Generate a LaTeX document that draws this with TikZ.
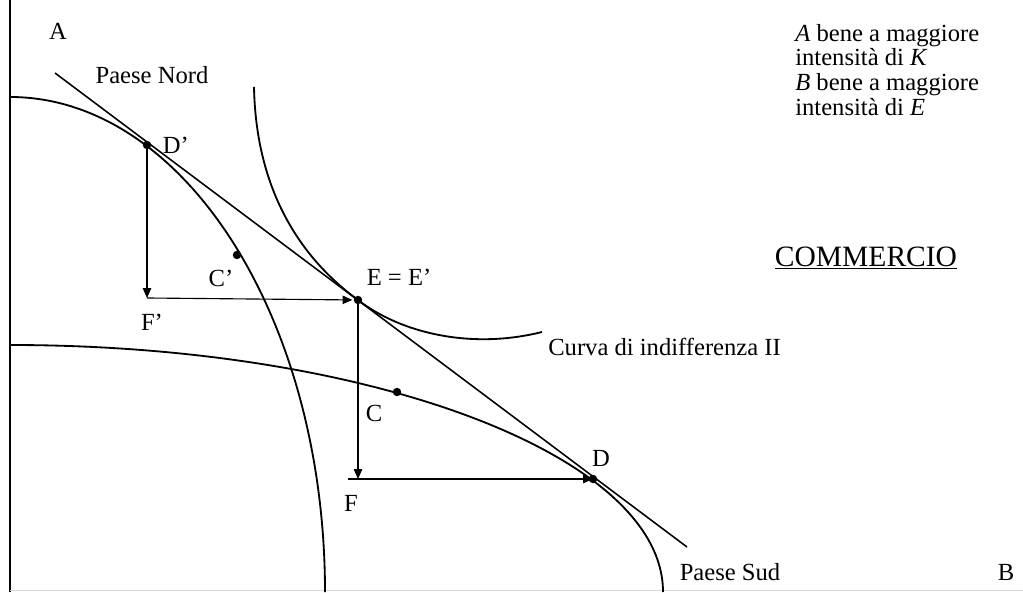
\documentclass[tikz,border=0pt]{standalone}
\usepackage{fontspec}
\setmainfont{Liberation Serif}
\usetikzlibrary{arrows.meta,positioning}

\begin{document}
\begin{tikzpicture}[x=0.025cm,y=0.025cm,>={Triangle[length=7pt,width=6pt]},
    lbl/.style={font=\fontsize{17.5}{17.5}\selectfont,inner sep=0pt},
    curva/.style={line width=1.3pt},
    freccia/.style={->,line width=0.8pt},
    punto/.style={fill,circle,inner sep=0pt,minimum size=6pt}]
    \useasboundingbox (0,0) rectangle (1023,592);

    % assi
    \draw[line width=1.2pt] (10,0) -- (10,592);
    \draw[black!15] (10,2) -- (1023,2);

    % frontiere dei due paesi
    \draw[curva] (10,495) arc[start angle=90,end angle=0,x radius=315,y radius=495];
    \draw[curva] (10,247) arc[start angle=90,end angle=0,x radius=653,y radius=247];

    % prezzi relativi e curva di indifferenza
    \coordinate (P1) at (55,519);
    \coordinate (P2) at (687,45);
    \draw[line width=1.1pt] (P1) -- (P2);
    \draw[curva] (254,505) .. controls (256,402) and (300,334.5) .. (358,292)
        .. controls (400,259.5) and (470,242) .. (542,260);

    % punti
    \coordinate (Dp) at (147,447);
    \coordinate (Cp) at (237,337);
    \coordinate (E) at (358,292);
    \coordinate (C) at (397,200);
    \coordinate (D) at (593,113);
    \coordinate (Fp) at (147,294);
    \coordinate (F) at (358,113);

    \draw[freccia] (Dp) -- (Fp);
    \draw[freccia,shorten >=4pt] (Fp) -- (E);
    \draw[freccia] (E) -- (F);
    \draw[freccia] ([xshift=-0.25cm]F) -- (D);

    \foreach \p in {Dp,Cp,E,C,D}
        \node[punto] at (\p) {};

    % etichette
    \node[lbl] (lA) at (58,561) {A};
    \node[lbl] (nord) at (152,517) {Paese Nord};
    \node[lbl,right=11pt of Dp] (lDp) {D’};
    \node[lbl] (lCp) at (221,314) {C’};
    \node[lbl] (lFp) at (152,270) {F’};
    \node[lbl] (lE) at (399,315) {E = E’};
    \node[lbl,anchor=west] (indiff) at (548,245) {Curva di indifferenza II};
    \node[lbl] (lC) at (374,179) {C};
    \node[lbl] (lF) at (351,89) {F};
    \node[lbl] (lD) at (601,134) {D};
    \node[lbl] (sud) at (730,20) {Paese Sud};
    \node[lbl] (lB) at (1006,20) {B};
    \node[lbl,font=\fontsize{21}{21}\selectfont] (comm) at (866,334) {\underline{COMMERCIO}};
    \node[lbl,anchor=north west,align=left] (legenda) at (795,568)
        {\textit{A} bene a maggiore\\intensità di \textit{K}\\
         \textit{B} bene a maggiore\\intensità di \textit{E}};
\end{tikzpicture}
\end{document}
